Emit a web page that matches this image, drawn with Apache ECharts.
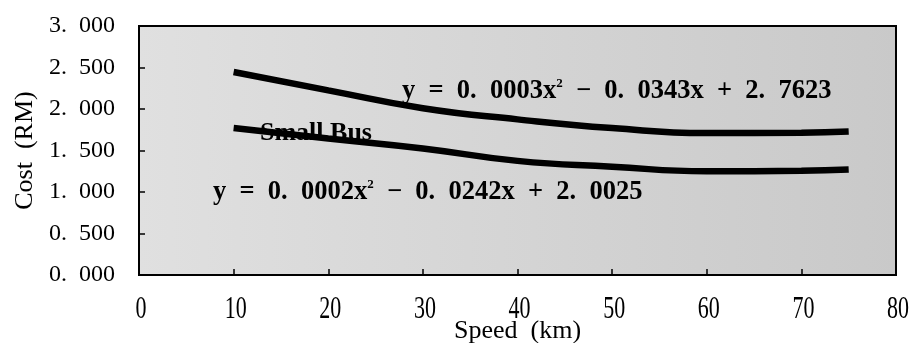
<!DOCTYPE html>
<html>
<head>
<meta charset="utf-8">
<script src="https://cdn.jsdelivr.net/npm/echarts@6/dist/echarts.min.js"></script>
<style>
  html, body { margin: 0; padding: 0; background: #fff; }
  #chart { width: 914px; height: 343px; }
</style>
</head>
<body>
<div id="chart"></div>
<script>
// values
var speeds = [10, 20, 30, 40, 50, 60, 70, 75];
var upperCost = [2.445, 2.225, 2.01, 1.875, 1.77, 1.71, 1.715, 1.73];
var smallBusCost = [1.77, 1.645, 1.525, 1.375, 1.305, 1.25, 1.255, 1.27];
var xTicks = [0, 10, 20, 30, 40, 50, 60, 70, 80];
var yTicks = [0, 0.5, 1, 1.5, 2, 2.5, 3];

var upperEq = 'y  =  0.  0003x{sup|2}  −  0.  0343x  +  2.  7623';
var lowerEq = 'y  =  0.  0002x{sup|2}  −  0.  0242x  +  2.  0025';

function pairs(xs, ys) {
    return xs.map(function (x, i) { return [x, ys[i]]; });
}

var font = '"Liberation Serif", "DejaVu Serif", serif';

var myChart = echarts.init(document.getElementById('chart'));

function eqText(txt, x, y) {
    return {
        type: 'text', x: x, y: y, z: 10,
        style: {
            text: txt,
            fill: '#000',
            font: 'bold 26.5px ' + font,
            textAlign: 'left',
            textVerticalAlign: 'middle',
            rich: {
                sup: { fontSize: 13, fontWeight: 'bold', fontFamily: font, verticalAlign: 'top', padding: [0, 0, 14, 0] }
            }
        }
    };
}

option = {
    backgroundColor: '#fff',
    animation: false,
    grid: {
        left: 139, right: 18, top: 26, bottom: 68,
        outerBoundsMode: 'none',
        containLabel: false,
        show: true,
        backgroundColor: new echarts.graphic.LinearGradient(0, 0, 1, 0, [
            { offset: 0, color: '#e0e0e0' },
            { offset: 1, color: '#c9c9c9' }
        ]),
        borderColor: '#000',
        borderWidth: 2
    },
    xAxis: {
        type: 'value',
        min: 0, max: 80, interval: 10,
        name: 'Speed  (km)',
        nameLocation: 'middle',
        nameGap: 43,
        nameTextStyle: { color: '#000', fontFamily: font, fontSize: 26 },
        axisLine: { show: true, lineStyle: { color: '#000', width: 2 } },
        axisTick: { show: true, inside: true, length: 6, lineStyle: { color: '#000', width: 1.5 } },
        axisLabel: { show: false },
        splitLine: { show: false }
    },
    yAxis: {
        type: 'value',
        min: 0, max: 3, interval: 0.5,
        name: 'Cost  (RM)',
        nameLocation: 'middle',
        nameGap: 100,
        nameTextStyle: { color: '#000', fontFamily: font, fontSize: 26 },
        axisLine: { show: true, lineStyle: { color: '#000', width: 2 } },
        axisTick: { show: true, inside: true, length: 6, lineStyle: { color: '#000', width: 1.5 } },
        axisLabel: {
            color: '#000', fontFamily: font, fontSize: 24, margin: 24,
            formatter: function (v) { return v.toFixed(3).replace('.', '.  '); }
        },
        splitLine: { show: false }
    },
    series: [
        {
            name: 'Upper',
            type: 'line',
            data: pairs(speeds, upperCost),
            smooth: true,
            symbol: 'none',
            lineStyle: { color: '#000', width: 6.5 }
        },
        {
            name: 'Small Bus',
            type: 'line',
            data: pairs(speeds, smallBusCost),
            smooth: true,
            symbol: 'none',
            lineStyle: { color: '#000', width: 6.5 }
        }
    ]
};

myChart.setOption(option);

// tall, narrow x tick labels like the scanned original
var gfx = [
    eqText(upperEq, 402, 91),
    eqText(lowerEq, 213, 192),
    {
        type: 'text', x: 260, y: 133, z: 10,
        style: { text: 'Small Bus', fill: '#000', font: 'bold 26px ' + font, textAlign: 'left', textVerticalAlign: 'middle' }
    }
];
xTicks.forEach(function (v) {
    var px = myChart.convertToPixel({ xAxisIndex: 0 }, v);
    gfx.push({
        type: 'text', x: px + 2, y: 310, scaleY: 1.45,
        style: { text: String(v), fill: '#000', font: '22px ' + font, textAlign: 'center', textVerticalAlign: 'middle' }
    });
});
myChart.setOption({ graphic: gfx });
</script>
</body>
</html>
